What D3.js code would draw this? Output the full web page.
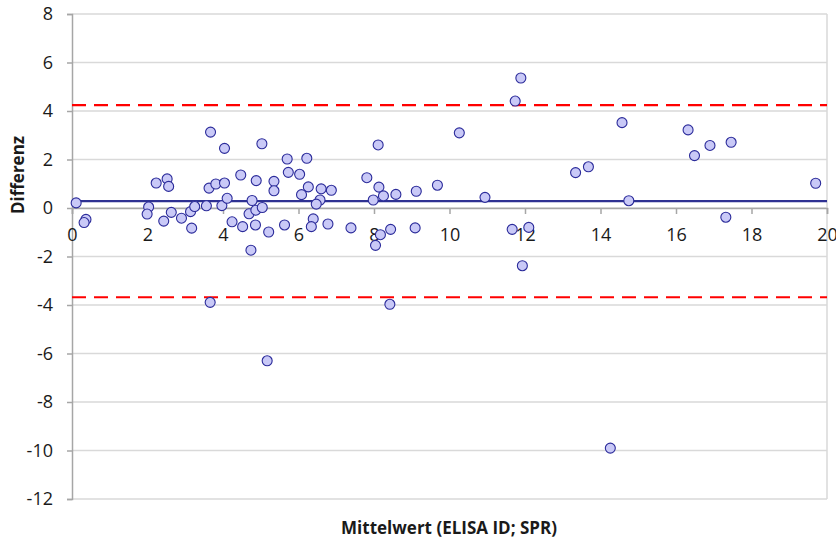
<!DOCTYPE html>
<html>
<head>
<meta charset="utf-8">
<script src="https://cdn.jsdelivr.net/npm/d3@7"></script>
<style>
  html, body { margin: 0; padding: 0; background: #fff; }
  svg { display: block; font-family: "Open Sans", "Liberation Sans", sans-serif; }
</style>
</head>
<body>
<svg id="chart" width="836" height="541"></svg>
<script>
// Bland-Altman: mean of both methods vs. their difference
const meanValues = [
  0.11, 0.37, 0.32, 2.03, 1.99, 2.23, 2.52, 2.56, 2.43, 2.63,
  2.90, 3.14, 3.25, 3.17, 3.56, 3.63, 3.81, 4.04, 3.67, 4.04,
  3.97, 4.11, 4.24, 4.47, 4.52, 4.77, 4.69, 4.87, 5.04, 4.86,
  4.74, 5.21, 4.88, 5.03, 5.35, 5.35, 5.63, 5.70, 6.22, 5.73,
  6.03, 6.26, 6.08, 6.60, 6.87, 6.57, 6.47, 6.39, 6.34, 6.78,
  7.39, 7.81, 8.13, 8.25, 7.98, 8.58, 8.11, 8.17, 8.04, 8.44,
  9.12, 9.09, 9.68, 10.26, 10.94, 11.74, 11.89, 11.66, 12.10, 11.93,
  8.42, 3.66, 5.17, 14.26, 13.34, 13.68, 14.57, 14.75, 16.32, 16.49,
  16.90, 17.46, 17.32, 19.70
];
const diffValues = [
  0.21, -0.47, -0.60, 0.04, -0.25, 1.03, 1.20, 0.89, -0.54, -0.18,
  -0.42, -0.15, 0.06, -0.83, 0.09, 0.82, 0.99, 1.03, 3.13, 2.46,
  0.10, 0.40, -0.57, 1.36, -0.77, 0.31, -0.24, -0.09, 0.02, -0.70,
  -1.74, -0.99, 1.13, 2.65, 1.10, 0.71, -0.70, 2.02, 2.05, 1.47,
  1.39, 0.87, 0.55, 0.79, 0.73, 0.33, 0.16, -0.45, -0.77, -0.66,
  -0.82, 1.25, 0.86, 0.50, 0.33, 0.56, 2.60, -1.10, -1.54, -0.88,
  0.69, -0.82, 0.94, 3.10, 0.44, 4.41, 5.36, -0.88, -0.80, -2.38,
  -3.97, -3.89, -6.30, -9.90, 1.46, 1.70, 3.52, 0.30, 3.22, 2.16,
  2.58, 2.71, -0.38, 1.02
];

// Mean difference and limits of agreement
const meanDiff = 0.28;
const limitsOfAgreement = [4.24, -3.68];

const xTicks = [0, 2, 4, 6, 8, 10, 12, 14, 16, 18, 20];
const yTicks = [-12, -10, -8, -6, -4, -2, 0, 2, 4, 6, 8];
const xTitle = "Mittelwert (ELISA ID; SPR)";
const yTitle = "Differenz";

const svg = d3.select("#chart");
const plot = { left: 72, right: 827, top: 14, bottom: 499 };

const x = d3.scaleLinear().domain([0, 20]).range([plot.left, plot.right]);
const y = d3.scaleLinear().domain([-12, 8]).range([plot.bottom, plot.top]);

// horizontal gridlines
svg.append("g")
  .selectAll("line")
  .data(yTicks)
  .join("line")
  .attr("x1", plot.left).attr("x2", plot.right)
  .attr("y1", d => y(d)).attr("y2", d => y(d))
  .attr("stroke", "#d9d9d9")
  .attr("stroke-width", 1.5);

// plot-area border on the right
svg.append("line")
  .attr("x1", plot.right).attr("x2", plot.right)
  .attr("y1", plot.top).attr("y2", plot.bottom)
  .attr("stroke", "#d9d9d9").attr("stroke-width", 1.5);

// y axis
const yAxis = svg.append("g")
  .attr("transform", `translate(${plot.left},0)`)
  .call(d3.axisLeft(y).tickValues(yTicks).tickFormat(d3.format("d")).tickSize(5).tickPadding(14));
yAxis.select(".domain").attr("stroke", "#a6a6a6").attr("stroke-width", 1.5);
yAxis.selectAll(".tick line").attr("stroke", "#a6a6a6").attr("stroke-width", 1.5);
yAxis.selectAll(".tick text")
  .attr("font-size", 18)
  .attr("font-family", "Open Sans, sans-serif")
  .attr("fill", "#1a1a1a")
  .text(d => d < 0 ? "-" + Math.abs(d) : d);

// x axis crossing at zero
const xAxis = svg.append("g")
  .attr("transform", `translate(0,${y(0)})`)
  .call(d3.axisBottom(x).tickValues(xTicks).tickFormat(d3.format("d")).tickSize(6).tickPadding(14));
xAxis.select(".domain").attr("stroke", "#a6a6a6").attr("stroke-width", 1.5);
xAxis.selectAll(".tick line").attr("stroke", "#a6a6a6").attr("stroke-width", 1.5);
xAxis.selectAll(".tick text")
  .attr("font-size", 18)
  .attr("font-family", "Open Sans, sans-serif")
  .attr("fill", "#1a1a1a");

// limits of agreement
svg.append("g")
  .selectAll("line")
  .data(limitsOfAgreement)
  .join("line")
  .attr("x1", x(0)).attr("x2", x(20))
  .attr("y1", d => y(d)).attr("y2", d => y(d))
  .attr("stroke", "#ff0000")
  .attr("stroke-width", 2.2)
  .attr("stroke-dasharray", "14,8");

// mean difference
svg.append("line")
  .attr("x1", x(0)).attr("x2", x(20))
  .attr("y1", y(meanDiff)).attr("y2", y(meanDiff))
  .attr("stroke", "#2e3192")
  .attr("stroke-width", 2.2);

// data points
const points = meanValues.map((m, i) => ({ m, d: diffValues[i] }));
svg.append("g")
  .selectAll("circle")
  .data(points)
  .join("circle")
  .attr("cx", p => x(p.m))
  .attr("cy", p => y(p.d))
  .attr("r", 5)
  .attr("fill", "#c9c9f7")
  .attr("stroke", "#2b2b9a")
  .attr("stroke-width", 1.1);

// axis titles
svg.append("text")
  .attr("x", 449).attr("y", 534)
  .attr("text-anchor", "middle")
  .attr("font-size", 17)
  .attr("font-weight", "bold")
  .attr("fill", "#1a1a1a")
  .text(xTitle);

svg.append("text")
  .attr("transform", "translate(24,175) rotate(-90)")
  .attr("text-anchor", "middle")
  .attr("font-size", 17)
  .attr("font-weight", "bold")
  .attr("fill", "#1a1a1a")
  .text(yTitle);
</script>
</body>
</html>
